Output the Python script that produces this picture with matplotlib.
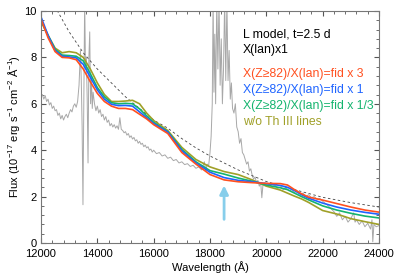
import numpy as np
import matplotlib
matplotlib.use("Agg")
import matplotlib.pyplot as plt
from matplotlib.ticker import MultipleLocator

plt.rcParams['font.family'] = ['Liberation Sans', 'DejaVu Sans']
plt.rcParams['mathtext.default'] = 'regular'

# model grid
wl = [12000, 12250, 12500, 12750, 13000, 13250, 13500, 13750, 14000, 14250,
      14500, 14750, 15000, 15250, 15500, 15750, 16000, 16500, 17000, 17500,
      18000, 18500, 19000, 19500, 20000, 20500, 20750, 21000, 21250, 21500,
      22000, 22500, 23000, 23500, 24000]

fid3 = [9.65, 8.85, 8.25, 8.0, 7.98, 7.9, 7.5, 6.95, 6.45, 6.1,
        5.9, 5.8, 5.8, 5.75, 5.55, 5.35, 5.1, 4.72, 3.9, 3.4,
        2.95, 2.72, 2.64, 2.6, 2.57, 2.56, 2.5, 2.3, 2.12, 1.98,
        1.85, 1.7, 1.55, 1.42, 1.33]
fid1 = [9.75, 8.95, 8.3, 8.05, 8.02, 7.98, 7.7, 7.15, 6.6, 6.2,
        5.98, 5.92, 5.93, 5.9, 5.65, 5.4, 5.15, 4.78, 3.98, 3.45,
        3.05, 2.82, 2.7, 2.64, 2.56, 2.48, 2.4, 2.26, 2.08, 1.93,
        1.72, 1.55, 1.42, 1.32, 1.24]
fid13 = [9.6, 8.95, 8.35, 8.1, 8.08, 8.05, 7.85, 7.3, 6.7, 6.3,
         6.05, 6.0, 6.02, 6.0, 5.78, 5.48, 5.2, 4.8, 4.03, 3.5,
         3.12, 2.97, 2.8, 2.66, 2.5, 2.38, 2.3, 2.15, 2.0, 1.86,
         1.6, 1.42, 1.28, 1.16, 1.08]
noth = [9.55, 8.95, 8.4, 8.2, 8.25, 8.2, 8.0, 7.5, 6.9, 6.4,
        6.1, 6.1, 6.12, 6.15, 6.0, 5.6, 5.28, 4.85, 4.12, 3.6,
        3.28, 3.08, 2.95, 2.72, 2.45, 2.28, 2.15, 2.02, 1.9, 1.75,
        1.4, 1.25, 1.05, 0.92, 0.8]

bb_wl = [12400, 13000, 13500, 14000, 14500, 15000, 15500, 16000, 16500, 17000,
         17500, 18000, 18500, 19000, 19500, 20000, 21000, 22000, 23000, 24000]
bb = [10.4, 9.1, 8.2, 7.5, 6.9, 6.3, 5.8, 5.3, 4.95, 4.5,
      4.1, 3.75, 3.45, 3.15, 2.9, 2.65, 2.3, 1.97, 1.74, 1.55]

obs_wl = [12000, 12050, 12100, 12150, 12200, 12250, 12300, 12350, 12400, 12450,
          12500, 12550, 12600, 12650, 12700, 12750, 12800, 12850, 12900, 12950,
          13000, 13050, 13100, 13150, 13200, 13250, 13300, 13350, 13400, 13430,
          13460, 13490, 13520, 13550, 13580, 13610, 13640, 13670, 13700, 13730,
          13760, 13790, 13820, 13850, 13900, 13950,
          14000, 14050, 14100, 14150, 14200, 14250, 14300, 14350, 14400, 14450,
          14500, 14550, 14600, 14650, 14700, 14750, 14800, 14850, 14900, 14950,
          15000, 15050, 15100, 15150, 15200, 15250, 15300, 15350, 15400, 15450,
          15500, 15550, 15600, 15650, 15700, 15750, 15800, 15850, 15900, 15950,
          16000, 16100, 16200, 16300, 16400, 16500, 16600, 16700, 16800, 16900,
          17000, 17100, 17200, 17300, 17400, 17500, 17600, 17700, 17800, 17850,
          17900, 17950, 18000, 18040, 18080, 18110, 18140, 18170, 18200, 18240,
          18280, 18320, 18360, 18400, 18440, 18480, 18520, 18560, 18600, 18640,
          18680, 18720, 18760, 18800, 18850, 18900, 18950, 19000, 19050, 19100,
          19150, 19200, 19250, 19300, 19350, 19400, 19450, 19500, 19550, 19600,
          19650, 19700, 19750, 19800, 19840, 19880, 19950, 20000, 20100, 20200,
          20300, 20400, 20500, 20600, 20700, 20800, 20900, 21000, 21100, 21200,
          21300, 21400, 21500, 21600, 21700, 21800, 21900, 22000, 22200, 22400,
          22500, 22600, 22700, 22800, 22900, 23000, 23100, 23150, 23200, 23300,
          23400, 23500, 23600, 23700, 23750, 23780, 23820, 23900, 24000]
obs = [6.3, 6.4, 6.2, 6.35, 6.1, 6.2, 5.95, 6.05, 5.8, 5.9,
       5.7, 5.75, 5.5, 5.6, 5.35, 5.5, 5.3, 5.45, 5.55, 5.4,
       5.6, 5.75, 5.65, 5.9, 6.0, 5.85, 6.1, 6.8, 8.3, 7.0,
       5.0, 1.65, 6.0, 10.5, 7.5, 8.0, 6.2, 3.45, 8.0, 9.1,
       6.0, 7.2, 5.8, 6.5, 6.0, 5.7,
       5.9, 5.6, 5.75, 5.45, 5.55, 5.3, 5.45, 5.2, 5.3, 5.05,
       5.15, 5.0, 5.1, 4.95, 5.05, 4.9, 5.4, 4.9, 4.85, 4.75,
       4.8, 4.65, 4.72, 4.55, 4.62, 4.48, 4.55, 4.4, 4.45, 4.3,
       4.38, 4.25, 4.3, 4.15, 4.22, 4.1, 4.15, 4.0, 4.05, 3.92,
       4.0, 3.85, 3.9, 3.75, 3.8, 3.65, 3.7, 3.55, 3.6, 3.45,
       3.5, 3.38, 3.42, 3.3, 3.35, 3.22, 3.28, 3.15, 3.5, 3.1,
       3.4, 3.3, 3.9, 4.6, 6.0, 10.5, 6.5, 9.0, 6.0, 10.5,
       7.5, 10.5, 6.8, 8.8, 6.0, 7.5, 10.5, 7.0, 10.5, 7.0,
       8.3, 6.2, 6.9, 5.8, 5.6, 6.0, 5.0, 4.8, 4.3, 4.5,
       3.9, 3.8, 3.6, 3.4, 3.5, 3.1, 3.2, 2.9, 2.75, 2.85,
       2.6, 2.7, 2.45, 2.6, 1.95, 2.5, 2.6, 2.45, 2.55, 2.4,
       2.5, 2.35, 2.42, 2.3, 2.38, 2.25, 2.3, 2.18, 2.25, 2.1,
       2.15, 2.0, 2.08, 1.95, 2.0, 1.88, 1.92, 1.8, 1.6, 1.35,
       1.15, 1.3, 1.0, 1.15, 0.9, 1.05, 1.3, 0.9, 1.0, 0.8,
       0.95, 0.7, 0.85, 0.6, 1.0, 0.05, 0.8, 0.7, 0.75]

c_red = '#FF5020'
c_blue = '#1E64FF'
c_green = '#14B46E'
c_olive = '#A0A028'

fig = plt.figure(figsize=(3.99, 2.79), dpi=100)
ax = fig.add_axes([41/399, 1-243/279, 338/399, 232/279])

ax.plot(obs_wl, obs, color='#A8A8A8', lw=0.7)
ax.plot(bb_wl, bb, color='#444444', lw=0.6, ls=(0, (3, 3)))
ax.plot(wl, noth, color=c_olive, lw=1.2)
ax.plot(wl, fid13, color=c_green, lw=1.2)
ax.plot(wl, fid1, color=c_blue, lw=1.2)
ax.plot(wl, fid3, color=c_red, lw=1.2)

ax.annotate('', xy=(18500, 2.6), xytext=(18500, 0.9),
            arrowprops=dict(arrowstyle='-|>,head_width=0.25,head_length=0.5',
                            color='#87CEEB', lw=2))

ax.set_xlim(12000, 24000)
ax.set_ylim(0, 10)
ax.xaxis.set_major_locator(MultipleLocator(2000))
ax.xaxis.set_minor_locator(MultipleLocator(400))
ax.yaxis.set_major_locator(MultipleLocator(2))
ax.yaxis.set_minor_locator(MultipleLocator(0.4))
ax.tick_params(which='both', direction='in', top=True, right=True,
               labelsize=8, color='#555555')
ax.tick_params(axis='x', pad=4)
ax.tick_params(axis='y', pad=3)
ax.tick_params(which='major', length=3.5)
ax.tick_params(which='minor', length=2)
for s in ax.spines.values():
    s.set_color('#777777')
    s.set_linewidth(0.8)

ax.set_xlabel('Wavelength (Å)', fontsize=8, labelpad=2)
ax.set_ylabel('Flux (10$^{-17}$ erg s$^{-1}$ cm$^{-2}$ Å$^{-1}$)', fontsize=8, labelpad=2)

tx = 0.598
fs = 8.8
ax.text(tx, 0.90, 'L model, t=2.5 d', transform=ax.transAxes, fontsize=fs, va='center')
ax.text(tx, 0.832, 'X(lan)x1', transform=ax.transAxes, fontsize=fs, va='center')
ax.text(tx, 0.728, 'X(Z≥82)/X(lan)=fid x 3', transform=ax.transAxes, fontsize=fs, va='center', color=c_red)
ax.text(tx, 0.66, 'X(Z≥82)/X(lan)=fid x 1', transform=ax.transAxes, fontsize=fs, va='center', color=c_blue)
ax.text(tx, 0.59, 'X(Z≥82)/X(lan)=fid x 1/3', transform=ax.transAxes, fontsize=fs, va='center', color=c_green)
ax.text(tx, 0.52, 'w/o Th III lines', transform=ax.transAxes, fontsize=fs, va='center', color=c_olive)

fig.savefig('out.png', dpi=100)
